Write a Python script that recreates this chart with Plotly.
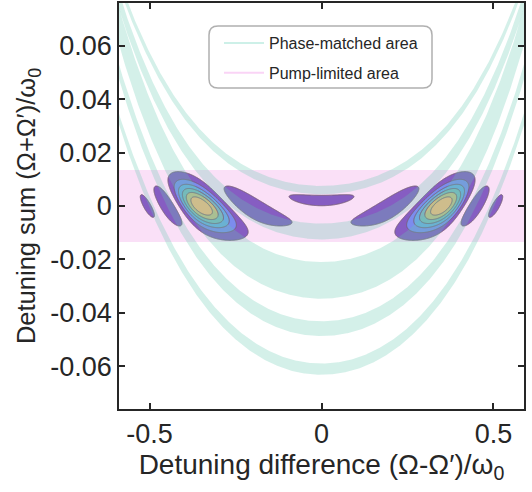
import numpy as np
import plotly.graph_objects as go

# ---------------- data ----------------
x_tickvals = [-0.5, 0, 0.5]
x_ticktext = ["-0.5", "0", "0.5"]
y_tickvals = [-0.06, -0.04, -0.02, 0, 0.02, 0.04, 0.06]
y_ticktext = ["-0.06", "-0.04", "-0.02", "0", "0.02", "0.04", "0.06"]

# phase-matched bands: edge(x) = c + a*x^2 + b*x^4
band_lower = [0.0044, -0.0125, -0.0347, -0.0487, -0.0632]
band_upper = [0.0075, -0.0066, -0.0210, -0.0432, -0.0590]
band_a = [0.139, 0.155, 0.170, 0.190, 0.200]
band_b = [0.243, 0.270, 0.300, 0.250, 0.200]

# pump-limited area (half width in detuning sum)
pump_half_width = 0.0135

# joint spectral amplitude model
pm_curv = 0.25           # phase-matching curve curvature
pm_center = 0.35         # phase-matched detuning difference at zero sum
pm_scale = 230.0         # sinc argument scale
pump_sigma = 0.006       # pump envelope width
contour_levels = [0.10, 0.25, 0.40, 0.55, 0.70, 0.85]
level_colors = ["#3e26a8", "#2d73f0", "#14a5d7", "#2db9a0", "#a5c346", "#fabe37"]

x_range = [-0.589, 0.589]
y_range = [-0.076, 0.076]

teal_fill = "rgba(100,200,175,0.28)"
pink_fill = "rgba(235,130,225,0.25)"

fig = go.Figure()

# pump-limited band
xb = np.linspace(-0.7, 0.7, 3)
fig.add_trace(go.Scatter(
    x=np.concatenate([xb, xb[::-1]]),
    y=np.concatenate([np.full(3, -pump_half_width), np.full(3, pump_half_width)]),
    fill="toself", fillcolor=pink_fill, line=dict(width=0), mode="lines",
    hoverinfo="skip", showlegend=False))

# phase-matched bands
xs = np.linspace(-0.7, 0.7, 600)
for lo, hi, a, b in zip(band_lower, band_upper, band_a, band_b):
    ylo = lo + a * xs**2 + b * xs**4
    yhi = hi + a * xs**2 + b * xs**4
    fig.add_trace(go.Scatter(
        x=np.concatenate([xs, xs[::-1]]),
        y=np.concatenate([ylo, yhi[::-1]]),
        fill="toself", fillcolor=teal_fill, line=dict(width=0), mode="lines",
        hoverinfo="skip", showlegend=False))

# JSA contours
gx = np.linspace(x_range[0], x_range[1], 1000)
gy = np.linspace(-0.022, 0.022, 500)
X, Y = np.meshgrid(gx, gy)
G = pm_curv * (X**2 - pm_center**2)
F = np.exp(-Y**2 / (2 * pump_sigma**2)) * np.abs(np.sinc(pm_scale * (Y - G) / np.pi))

n = len(contour_levels)
cs = []
bounds = [0] + [(2 * k + 1) / (2 * n) for k in range(n)] + [1]
cols = ["rgba(0,0,0,0)"] + level_colors
for k, c in enumerate(cols):
    cs.append([bounds[k], c])
    cs.append([bounds[k + 1], c])

fig.add_trace(go.Contour(
    x=gx, y=gy, z=F,
    contours=dict(start=contour_levels[0], end=contour_levels[-1],
                  size=contour_levels[1] - contour_levels[0], coloring="fill"),
    colorscale=cs, showscale=False, opacity=0.8,
    line=dict(color="#282828", width=1.0), hoverinfo="skip", showlegend=False))

# legend entries
fig.add_trace(go.Scatter(x=[None], y=[None], mode="lines",
                         line=dict(color="rgb(205,240,232)", width=2),
                         name="Phase-matched area", legendgroup="a"))
fig.add_trace(go.Scatter(x=[None], y=[None], mode="lines",
                         line=dict(color="rgb(250,212,246)", width=2),
                         name="Pump-limited area", legendgroup="b"))

# rounded legend frame
L, R, T, B = 209, 432, 26, 88
r = 9
def px(v): return (v - 119) / 405
def py(v): return (409 - v) / 406
path = (f"M {px(L + r)},{py(T)} L {px(R - r)},{py(T)} Q {px(R)},{py(T)} {px(R)},{py(T + r)} "
        f"L {px(R)},{py(B - r)} Q {px(R)},{py(B)} {px(R - r)},{py(B)} "
        f"L {px(L + r)},{py(B)} Q {px(L)},{py(B)} {px(L)},{py(B - r)} "
        f"L {px(L)},{py(T + r)} Q {px(L)},{py(T)} {px(L + r)},{py(T)} Z")

axis_common = dict(showline=True, linecolor="#262626", linewidth=1.6, mirror="ticks",
                   ticks="inside", ticklen=6, tickwidth=1.5, tickcolor="#262626",
                   showgrid=False, zeroline=False, automargin=False,
                   tickfont=dict(family="Liberation Sans", size=27, color="#262626"))

fig.update_layout(
    width=532, height=492,
    margin=dict(l=119, r=8, t=3, b=83),
    paper_bgcolor="white", plot_bgcolor="white",
    font=dict(family="Liberation Sans", color="#262626"),
    xaxis=dict(range=x_range, tickvals=x_tickvals, ticktext=x_ticktext,
               title=dict(text="Detuning difference (Ω-Ω′)/ω<sub>0</sub>",
                          font=dict(size=28, color="#262626"), standoff=3),
               **axis_common),
    yaxis=dict(range=y_range, tickvals=y_tickvals, ticktext=y_ticktext,
               title=dict(text="Detuning sum (Ω+Ω′)/ω<sub>0</sub>",
                          font=dict(size=25.5, color="#262626"), standoff=7),
               **axis_common),
    legend=dict(x=px(219), y=py(26), xanchor="left", yanchor="top",
                bgcolor="rgba(0,0,0,0)", borderwidth=0, tracegroupgap=6,
                font=dict(family="Liberation Sans", size=16, color="#262626"),
                itemwidth=40),
    shapes=[dict(type="path", xref="paper", yref="paper", path=path,
                 line=dict(color="#b0b0b0", width=1.5), fillcolor="rgba(255,255,255,0)",
                 layer="above")],
)

fig.write_html("out.html", config={"displayModeBar": False},
               post_script="document.body.style.margin='0px';")
